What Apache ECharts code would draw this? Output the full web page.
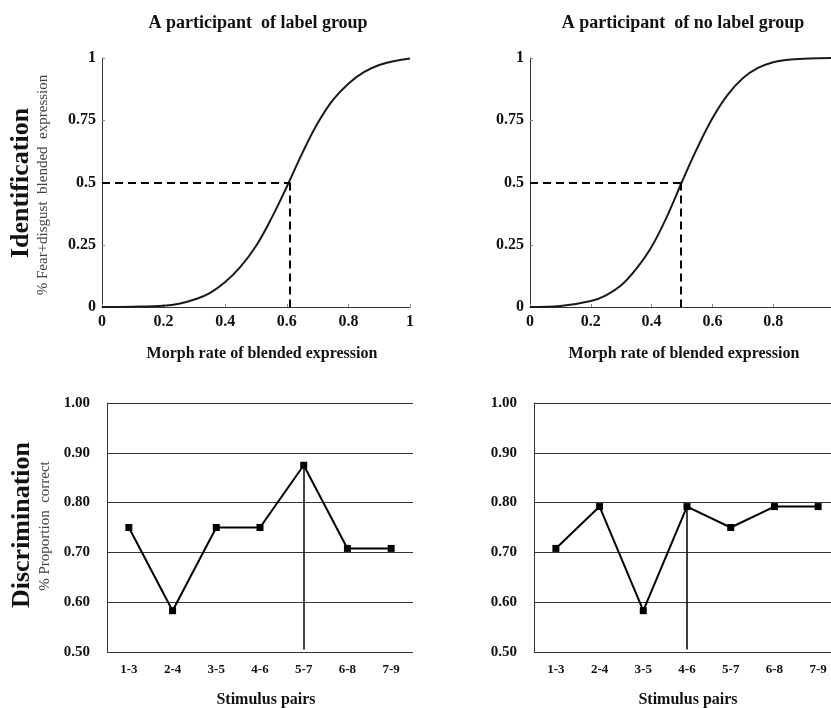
<!DOCTYPE html>
<html>
<head>
<meta charset="utf-8">
<script src="https://cdn.jsdelivr.net/npm/echarts@6/dist/echarts.min.js"></script>
<style>
  html, body { margin: 0; padding: 0; background: #fff; }
  #chart { width: 831px; height: 708px; }
</style>
</head>
<body>
<div id="chart"></div>
<script>
// identification curves (morph rate -> proportion)
const morphRates = [0, 0.1, 0.2, 0.25, 0.3, 0.35, 0.4, 0.45, 0.5, 0.55, 0.6, 0.65, 0.7, 0.75, 0.8, 0.85, 0.9, 0.95, 1]
const labelCurve = [0, 0.001, 0.005, 0.013, 0.03, 0.056, 0.1, 0.162, 0.245, 0.356, 0.483, 0.617, 0.738, 0.832, 0.897, 0.943, 0.972, 0.988, 0.998]
const noLabelCurve = [0, 0.004, 0.024, 0.047, 0.087, 0.154, 0.242, 0.362, 0.503, 0.638, 0.758, 0.852, 0.919, 0.96, 0.983, 0.993, 0.997, 0.999, 1]
const labelBoundary = 0.608
const noLabelBoundary = 0.497

// discrimination
const stimulusPairs = ['1-3', '2-4', '3-5', '4-6', '5-7', '6-8', '7-9']
const labelDiscrim = [0.75, 0.583, 0.75, 0.75, 0.875, 0.708, 0.708]
const noLabelDiscrim = [0.708, 0.792, 0.583, 0.792, 0.75, 0.792, 0.792]
const labelPeak = { pair: '5-7', top: 0.875, bottom: 0.505 }
const noLabelPeak = { pair: '4-6', top: 0.792, bottom: 0.505 }

const identTicks = [0, 0.25, 0.5, 0.75, 1]

const serif = '"Liberation Serif", "Times New Roman", serif'
const chart = echarts.init(document.getElementById('chart'))

function curveData(ys) {
  return morphRates.map((x, i) => [x, ys[i]])
}

function identX(idx) {
  return {
    gridIndex: idx, type: 'value', min: 0, max: 1, interval: 0.2,
    axisLine: { lineStyle: { color: '#333', width: 1 } },
    axisTick: { inside: true, length: 3, lineStyle: { color: '#888' } },
    axisLabel: { color: '#111', fontFamily: serif, fontWeight: 'bold', fontSize: 16, margin: 7 },
    splitLine: { show: false }
  }
}
function identY(idx) {
  return {
    gridIndex: idx, type: 'value', min: 0, max: 1, interval: 0.25,
    axisLine: { show: true, lineStyle: { color: '#333', width: 1 } },
    axisTick: { show: true, inside: true, length: 3, lineStyle: { color: '#888' } },
    axisLabel: {
      color: '#111', fontFamily: serif, fontWeight: 'bold', fontSize: 16, margin: 6,
      formatter: v => identTicks.indexOf(v) >= 0 ? String(v) : ''
    },
    splitLine: { show: false }
  }
}
function discX(idx) {
  return {
    gridIndex: idx, type: 'category', data: stimulusPairs, boundaryGap: true,
    axisLine: { show: false },
    axisTick: { show: false },
    axisLabel: { color: '#111', fontFamily: serif, fontWeight: 'bold', fontSize: 13, margin: 11 }
  }
}
function discY(idx) {
  return {
    gridIndex: idx, type: 'value', min: 0.5, max: 1, interval: 0.1,
    axisLine: { show: true, lineStyle: { color: '#333', width: 1 } },
    axisTick: { show: false },
    axisLabel: {
      color: '#111', fontFamily: serif, fontWeight: 'bold', fontSize: 15, margin: 17,
      formatter: v => v.toFixed(2)
    },
    splitLine: { show: true, lineStyle: { color: '#333', width: 1 } }
  }
}

function boundaryLines(b) {
  return {
    silent: true,
    symbol: 'none',
    label: { show: false },
    lineStyle: { color: '#000', width: 2, type: [8, 5] },
    data: [
      [{ coord: [0, 0.5] }, { coord: [b, 0.5] }],
      [{ coord: [b, 0.5] }, { coord: [b, 0] }]
    ]
  }
}
function peakLine(p) {
  return {
    silent: true,
    symbol: 'none',
    label: { show: false },
    lineStyle: { color: '#000', width: 1.5, type: 'solid' },
    data: [[{ coord: [p.pair, p.top] }, { coord: [p.pair, p.bottom] }]]
  }
}

function txt(text, x, y, size, opts) {
  opts = opts || {}
  return {
    type: 'text', x: x, y: y, rotation: opts.rot ? Math.PI / 2 : 0,
    style: {
      text: text, fill: opts.color || '#111',
      font: (opts.bold === false ? 'normal ' : 'bold ') + size + 'px ' + serif,
      textAlign: 'center', textVerticalAlign: 'middle'
    }
  }
}

const option = {
  backgroundColor: '#fff',
  animation: false,
  grid: [
    { left: 102, top: 58, width: 308, height: 249, outerBoundsMode: 'none' },
    { left: 530, top: 58, width: 304, height: 249, outerBoundsMode: 'none' },
    { left: 107, top: 403, width: 306, height: 249, outerBoundsMode: 'none' },
    { left: 534, top: 403, width: 306, height: 249, outerBoundsMode: 'none' }
  ],
  xAxis: [identX(0), identX(1), discX(2), discX(3)],
  yAxis: [identY(0), identY(1), discY(2), discY(3)],
  graphic: [
    txt('A participant  of label group', 258, 23, 18),
    txt('A participant  of no label group', 683, 23, 18),
    txt('Morph rate of blended expression', 262, 354, 16),
    txt('Morph rate of blended expression', 684, 354, 16),
    txt('Stimulus pairs', 266, 700, 16),
    txt('Stimulus pairs', 688, 700, 16),
    txt('Identification', 21, 183, 26, { rot: true }),
    txt('% Fear+disgust  blended  expression', 43, 185, 15, { rot: true, bold: false, color: '#444' }),
    txt('Discrimination', 22, 525, 26, { rot: true }),
    txt('% Proportion  correct', 45, 526, 15, { rot: true, bold: false, color: '#444' })
  ],
  series: [
    {
      type: 'line', xAxisIndex: 0, yAxisIndex: 0, data: curveData(labelCurve),
      smooth: 0.4, showSymbol: false, lineStyle: { color: '#1a1a1a', width: 2 },
      markLine: boundaryLines(labelBoundary)
    },
    {
      type: 'line', xAxisIndex: 1, yAxisIndex: 1, data: curveData(noLabelCurve),
      smooth: 0.4, showSymbol: false, lineStyle: { color: '#1a1a1a', width: 2 },
      markLine: boundaryLines(noLabelBoundary)
    },
    {
      type: 'line', xAxisIndex: 2, yAxisIndex: 2, data: labelDiscrim,
      symbol: 'rect', symbolSize: 7, itemStyle: { color: '#000' },
      lineStyle: { color: '#000', width: 2 },
      markLine: peakLine(labelPeak)
    },
    {
      type: 'line', xAxisIndex: 3, yAxisIndex: 3, data: noLabelDiscrim,
      symbol: 'rect', symbolSize: 7, itemStyle: { color: '#000' },
      lineStyle: { color: '#000', width: 2 },
      markLine: peakLine(noLabelPeak)
    }
  ]
}

chart.setOption(option)
</script>
</body>
</html>
